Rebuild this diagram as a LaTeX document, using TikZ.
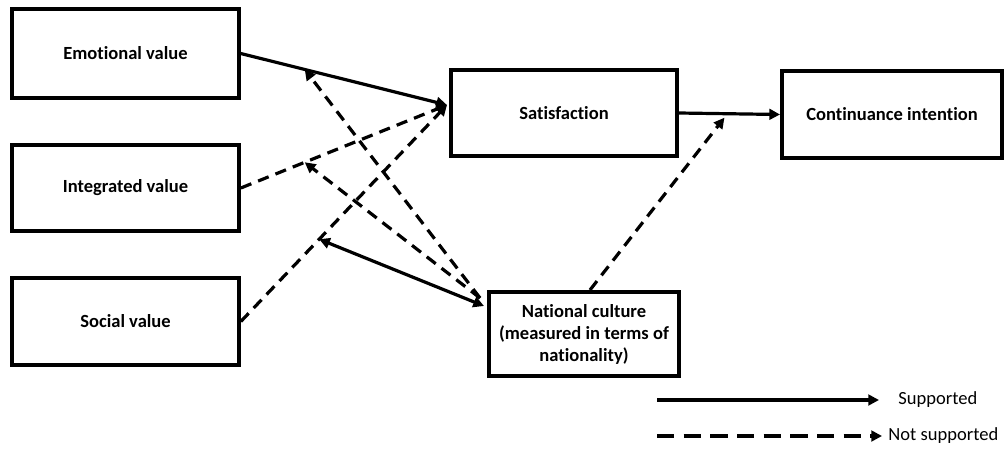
\documentclass[tikz,border=0pt]{standalone}
\usepackage{fontspec}
\setmainfont{Carlito}[Ligatures=NoCommon]
\usetikzlibrary{arrows.meta,calc}

\begin{document}
\begin{tikzpicture}[x=0.75pt, y=-0.75pt,
        factor/.style = {rectangle, draw, line width=3pt, align=center,
                         minimum width=170pt, minimum height=65pt,
                         font=\bfseries\fontsize{13.9}{16.5}\selectfont},
        supp/.style = {line width=2.4pt, -{Triangle[length=8pt,width=8pt]}},
        notsupp/.style = {supp, dash pattern=on 8.5pt off 5.5pt},
        legtext/.style = {right, font=\fontsize{13.9}{16.5}\selectfont}]
    \useasboundingbox (0,0) rectangle (1008,450);

    \node[factor, minimum height=66.75pt] (emo) at (125.5,53.5) {Emotional value};
    \node[factor, minimum height=64.5pt] (integ) at (125.5,188) {Integrated value};
    \node[factor] (social) at (125.5,321.5) {Social value};
    \node[factor, minimum width=169.5pt, minimum height=64.5pt] (sat) at (564,113) {Satisfaction};
    \node[factor, minimum width=165pt] (cont) at (892,114.5) {Continuance intention};
    \node[factor, minimum width=142.5pt, minimum height=63pt] (nat) at (584,334)
        {National culture\\(measured in terms of\\nationality)};

    \coordinate (satin) at (447,105);
    \coordinate (natout) at ($(nat.north west)+(-3,16)$);
    \coordinate (natin) at ($(nat.north west)+(-7,8)$);

    \draw[supp] (emo.east) -- coordinate[pos=0.31] (onemo) (satin);
    \draw[notsupp] (integ.east) -- coordinate[pos=0.31] (oninteg) (satin);
    \draw[notsupp] (social.east) -- coordinate[pos=0.38] (onsocial) (satin);
    \draw[supp] (sat.east) -- coordinate[pos=0.45] (onsat) (cont.west);

    \draw[notsupp] (natin) -- (onemo);
    \draw[notsupp] (natin) -- (oninteg);
    \draw[supp, {Triangle[length=8pt,width=8pt]}-{Triangle[length=8pt,width=8pt]}] (natout) -- (onsocial);
    \draw[notsupp] ($(nat.north)+(6,0)$) -- ($(onsat)+(0,4)$);

    % legend
    \coordinate (leg1) at (657,400);
    \coordinate (leg2) at (879,400);
    \coordinate (leg3) at (657,436);
    \coordinate (leg4) at (882,436);
    \draw[supp] (leg1) -- (leg2) node[legtext, xshift=10pt] (suplab) {Supported};
    \draw[supp, line width=3pt, dash pattern=on 13pt off 7pt] (leg3) -- (leg4) node[legtext] (nsuplab) {Not supported};
\end{tikzpicture}
\end{document}
